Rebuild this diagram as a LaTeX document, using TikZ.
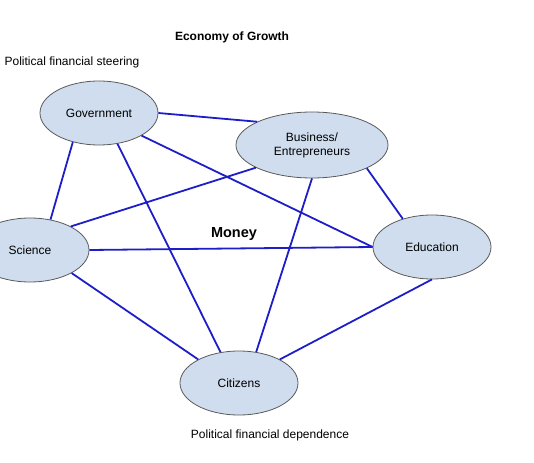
\documentclass[tikz,border=0pt]{standalone}
\usepackage{fontspec}
\setmainfont{Liberation Sans}
\usetikzlibrary{shapes.geometric}
\definecolor{linkblue}{RGB}{30,30,200}
\definecolor{bubble}{RGB}{207,221,238}
\definecolor{rim}{RGB}{90,90,90}
\begin{document}
\begin{tikzpicture}[x=1pt, y=-1pt,
  actor/.style={draw=rim, line width=0.8pt, fill=bubble, ellipse, inner sep=0pt, minimum width=118pt, minimum height=64pt, align=center, font=\fontsize{12}{14}\selectfont},
  link/.style={draw=linkblue, line width=1.8pt}]
\useasboundingbox (0,0) rectangle (534,462);

\node[actor] (gov) at (99,113) {Government};
\node[actor, minimum width=152pt, minimum height=66pt] (bus) at (312,145) {Business/\\Entrepreneurs};
\node[actor] (sci) at (30,250) {Science};
\node[actor] (edu) at (432,247) {Education};
\node[actor] (cit) at (239,383) {Citizens};

\draw[link] (gov.0) -- (bus.157);
\draw[link] (gov.228) -- (sci.56);
\draw[link] (gov.301) -- (cit.121);
\draw[link] (gov.332) -- (edu.180);
\draw[link] (bus.202) -- (sci.30);
\draw[link] (bus.270) -- (cit.61);
\draw[link] (bus.337) -- (edu.136);
\draw[link] (sci.0) -- (edu.180);
\draw[link] (sci.331) -- (cit.150);
\draw[link] (cit.30) -- (edu.270);

\node[font=\fontsize{12}{14}\selectfont\bfseries] (title) at (232,37) {Economy of Growth};
\node[font=\fontsize{12}{14}\selectfont] (steer) at (72,62) {Political financial steering};
\node[font=\fontsize{14.5}{17}\selectfont\bfseries] (money) at (234,234) {Money};
\node[font=\fontsize{12}{14}\selectfont] (dep) at (270,435) {Political financial dependence};
\end{tikzpicture}
\end{document}
